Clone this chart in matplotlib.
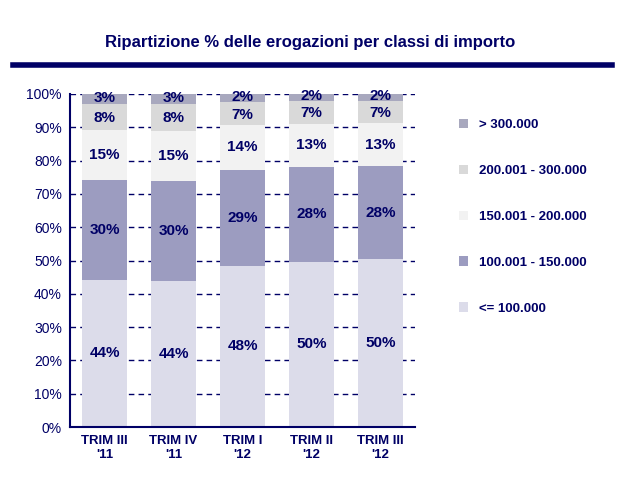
import matplotlib.pyplot as plt
import numpy as np

plt.rcParams["font.family"] = "Liberation Sans"

categorie = ["TRIM III\n'11", "TRIM IV\n'11", "TRIM I\n'12", "TRIM II\n'12", "TRIM III\n'12"]
classi = ["<= 100.000", "100.001 - 150.000", "150.001 - 200.000", "200.001 - 300.000", "> 300.000"]
fino_100 = [44.3, 43.8, 48.5, 49.7, 50.4]
da_100_150 = [30.0, 30.0, 28.8, 28.4, 28.0]
da_150_200 = [14.9, 15.2, 13.4, 12.9, 12.8]
da_200_300 = [7.9, 8.0, 6.8, 7.0, 6.7]
oltre_300 = [2.9, 3.0, 2.5, 2.0, 2.1]
etichette = [
    ["44%", "44%", "48%", "50%", "50%"],
    ["30%", "30%", "29%", "28%", "28%"],
    ["15%", "15%", "14%", "13%", "13%"],
    ["8%", "8%", "7%", "7%", "7%"],
    ["3%", "3%", "2%", "2%", "2%"],
]
colori = ["#dcdcea", "#9c9cc0", "#f2f2f2", "#d9d9d9", "#a8a8be"]
navy = "#000066"

serie = [fino_100, da_100_150, da_150_200, da_200_300, oltre_300]

fig = plt.figure(figsize=(6.21, 4.87), dpi=100)
ax = fig.add_axes([0.113, 0.123, 0.555, 0.684])
x = np.arange(len(categorie))
base = np.zeros(len(categorie))
handles = []
for i, vals in enumerate(serie):
    b = ax.bar(x, vals, 0.65, bottom=base, color=colori[i], zorder=2)
    handles.append(b)
    for j, v in enumerate(vals):
        y = base[j] + v / 2
        if i == 3:
            y = base[j] + v / 2 - 0.3
        if i == 4:
            y = base[j] + v / 2 + 0.3
        ax.text(x[j], y, etichette[i][j], ha="center", va="center",
                fontsize=11, fontweight="bold", color=navy, zorder=3)
    base += np.array(vals)

ax.set_ylim(0, 100)
ax.set_xlim(-0.5, len(categorie) - 0.5)
ax.set_yticks(range(0, 101, 10))
ax.set_yticklabels([f"{t}%" for t in range(0, 101, 10)], color=navy, fontsize=10)
ax.set_xticks(x)
ax.set_xticklabels(categorie, fontsize=9.5, fontweight="bold", color=navy)
ax.yaxis.grid(True, linestyle=(0, (4, 3)), color=navy, linewidth=1, zorder=1)
ax.set_axisbelow(True)
for s in ["top", "right"]:
    ax.spines[s].set_visible(False)
for s in ["left", "bottom"]:
    ax.spines[s].set_color(navy)
    ax.spines[s].set_linewidth(1.5)
ax.tick_params(axis="both", length=0, pad=6)

fig.text(0.5, 0.913, "Ripartizione % delle erogazioni per classi di importo",
         ha="center", va="center", fontsize=12, fontweight="bold", color=navy)
fig.add_artist(plt.Line2D([0.021, 0.985], [0.866, 0.866], color=navy, linewidth=4))

leg = fig.legend(handles[::-1], classi[::-1], loc="center left", bbox_to_anchor=(0.72, 0.555),
                 frameon=False, fontsize=9.5, labelspacing=2.55, handlelength=0.7,
                 handleheight=0.7, handletextpad=0.8)
for t in leg.get_texts():
    t.set_color(navy)
    t.set_fontweight("bold")

fig.savefig("out.png", dpi=100)
